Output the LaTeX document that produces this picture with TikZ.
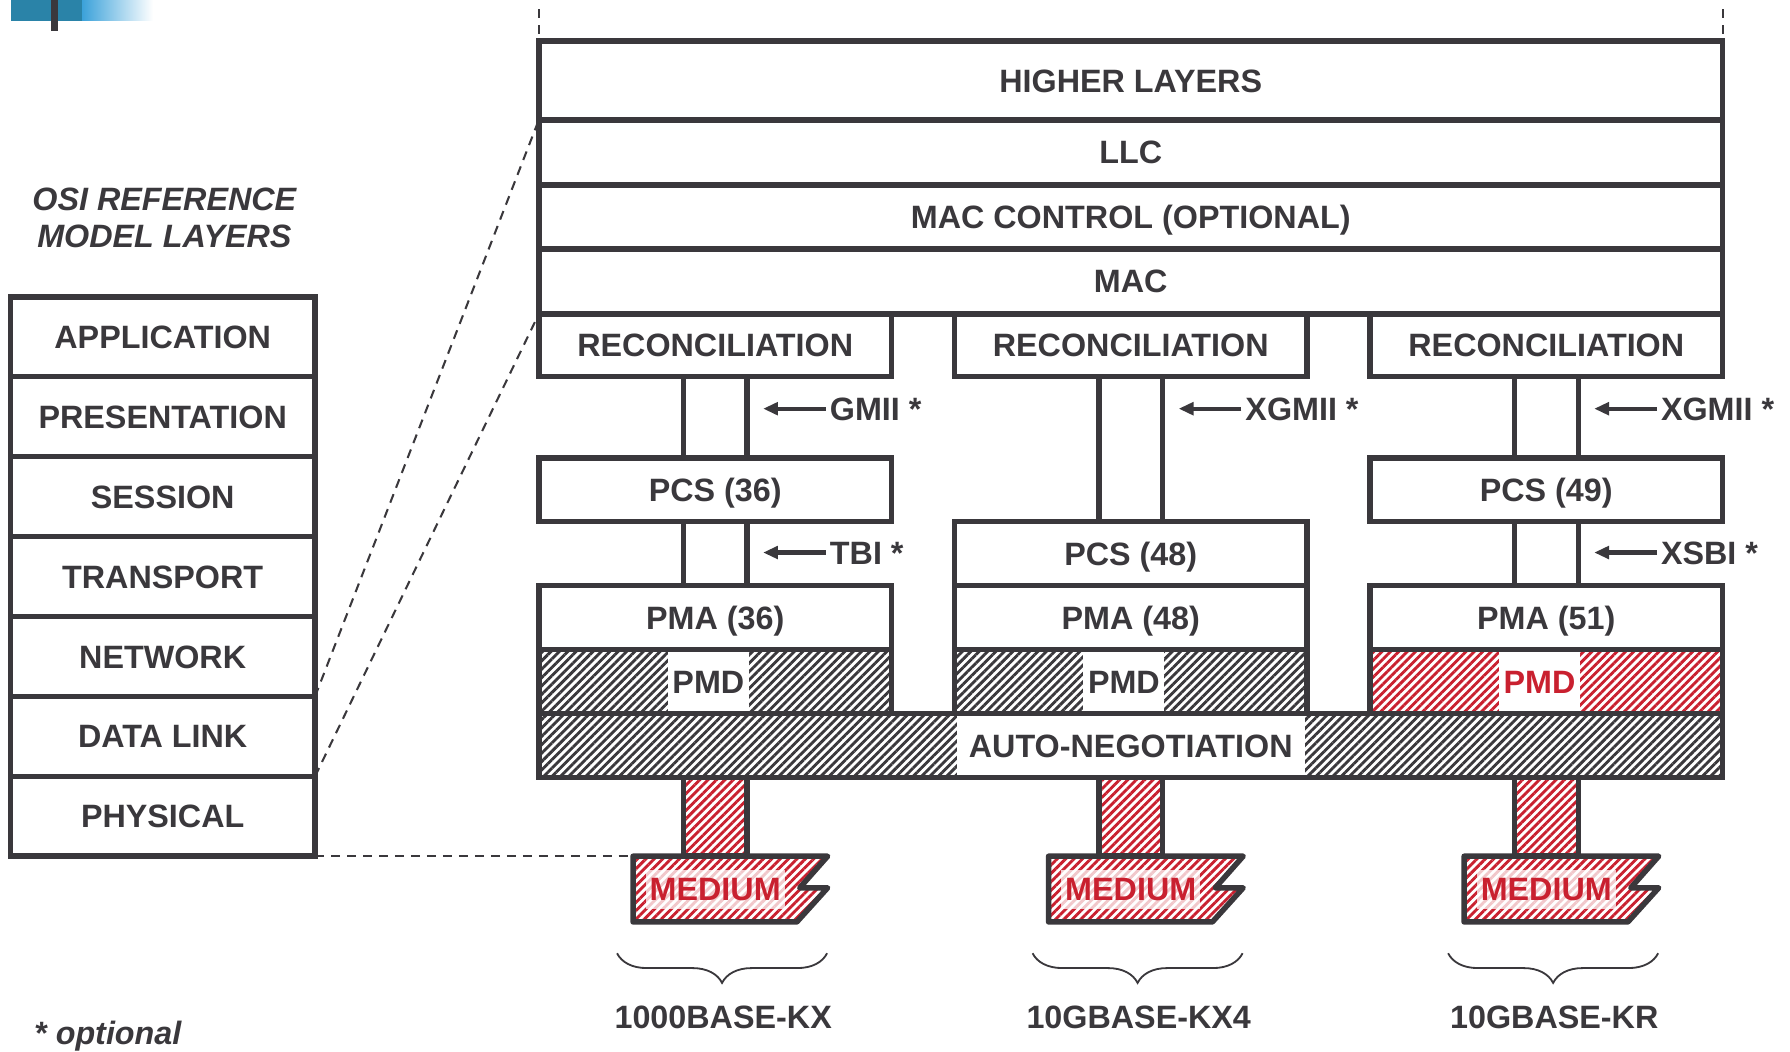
\documentclass[tikz,border=0pt]{standalone}
\usepackage{fontspec}
\setmainfont{Liberation Sans}
\usetikzlibrary{arrows.meta,patterns.meta,decorations.pathreplacing}
\definecolor{dk}{HTML}{3A383C}
\definecolor{rd}{HTML}{C9202F}
\definecolor{tealc}{HTML}{2A83A8}
\definecolor{lblue}{HTML}{3CA2DA}
\begin{document}
\begin{tikzpicture}[x=1pt,y=-1pt,
  txt/.style={font=\fontsize{28.3}{34}\selectfont\bfseries, text=dk, text height=20.3pt, text depth=0pt, inner sep=0pt, outer sep=0pt},
  box/.style={txt, draw=dk, line width=4.8pt, fill=white},
  hatchbox/.style={draw=dk, line width=4.8pt, pattern={Lines[angle=45,distance=5.2pt,line width=2.5pt]}, pattern color=#1, inner sep=0pt, outer sep=0pt},
  lbl/.style={txt, fill=white},
  bus/.style={draw=dk, line width=4.8pt},
  ifarrow/.style={draw=dk, line width=3.6pt, -{Triangle[length=13pt,width=11pt]}},
  dsh/.style={draw=dk, line width=1.8pt, dash pattern=on 8pt off 6pt},
  brc/.style={draw=dk, line width=1.6pt, decorate, decoration={brace, amplitude=26pt, mirror}},
  itl/.style={txt, font=\fontsize{28.3}{34}\selectfont\bfseries\itshape},
]
\useasboundingbox (0,0) rectangle (1568,921);

% top-left decoration
\fill[tealc] (10,0) rectangle (72,18);
\shade[left color=lblue, right color=white] (72,0) rectangle (134,18);
\fill[dk] (45,0) rectangle (51,27);

% upper layers
\node[box, minimum width=1037pt, minimum height=69pt] (hl) at (990.5,70.5) {HIGHER LAYERS};
\node[box, minimum width=1037pt, minimum height=57pt] (llc) at (990.5,133.5) {LLC};
\node[box, minimum width=1037pt, minimum height=56pt] (macc) at (990.5,190) {MAC CONTROL (OPTIONAL)};
\node[box, minimum width=1037pt, minimum height=57pt] (mac) at (990.5,246.5) {MAC};

% columns
\foreach \c/\i/\pma/\pc/\lab in {626.5/1/36/dk/1000BASE-KX, 990.5/2/48/dk/10GBASE-KX4, 1354.5/3/51/rd/10GBASE-KR} {
  \node[hatchbox=rd, minimum width=56pt, minimum height=69pt] (stem\i) at (\c,715.5) {};
  \node[box, minimum width=309pt, minimum height=55pt] (rec\i) at (\c,302.5) {RECONCILIATION};
  \node[box, minimum width=309pt, minimum height=56pt] (pma\i) at (\c,541) {PMA (\pma)};
  \node[hatchbox=\pc, minimum width=309pt, minimum height=56pt] (pmd\i) at (\c,597) {};
  \node[lbl, text=\pc, minimum width=71pt, minimum height=51pt] (pmdl\i) at ({\c-6},597) {PMD};
  \coordinate (mtl\i) at ({\c-72},750);
  \path[draw=dk, line width=4.8pt, line join=round, pattern={Lines[angle=45,distance=5.2pt,line width=2.5pt]}, pattern color=rd]
    (mtl\i) -- ({\c+98.5},750) -- ({\c+74},777.7) -- ({\c+98.5},777.7) -- ({\c+71.5},807.6) -- ({\c-72},807.6) -- cycle;
  \node[txt, text=rd, fill=white, fill opacity=0.75, text opacity=1, minimum width=122pt, minimum height=34pt] (med\i) at (\c,779) {MEDIUM};
  \coordinate (bl\i) at ({\c-86},835);
  \coordinate (br\i) at ({\c+98},835);
  \draw[brc] (bl\i) -- (br\i);
  \node[txt] (std\i) at ({\c+7},891) {\lab};
}

% PCS boxes
\node[box, minimum width=309pt, minimum height=56pt] (pcs1) at (626.5,429) {PCS (36)};
\node[box, minimum width=309pt, minimum height=56pt] (pcs2) at (990.5,485) {PCS (48)};
\node[box, minimum width=309pt, minimum height=56pt] (pcs3) at (1354.5,429) {PCS (49)};

% auto-negotiation
\node[hatchbox=dk, minimum width=1037pt, minimum height=56pt] (an) at (990.5,653) {};
\node[lbl, minimum width=305pt, minimum height=51pt] (anl) at (990.5,653) {AUTO-NEGOTIATION};

% buses
\foreach \i in {1,2,3} {
  \draw[bus] ([xshift=-28pt]rec\i.south) -- ([xshift=-28pt]pcs\i.north);
  \draw[bus] ([xshift=28pt]rec\i.south) -- ([xshift=28pt]pcs\i.north);
}
\foreach \i in {1,3} {
  \draw[bus] ([xshift=-28pt]pcs\i.south) -- ([xshift=-28pt]pma\i.north);
  \draw[bus] ([xshift=28pt]pcs\i.south) -- ([xshift=28pt]pma\i.north);
}

% interface labels
\coordinate (ga) at (668.5,358);
\node[txt, inner xsep=3.5pt, anchor=west] (gmii) at (723.5,358) {GMII *};
\draw[ifarrow] (gmii.west) -- (ga);
\coordinate (ta) at (668.5,484);
\node[txt, inner xsep=3.5pt, anchor=west] (tbi) at (723.5,484) {TBI *};
\draw[ifarrow] (tbi.west) -- (ta);
\coordinate (xa2) at (1032.5,358);
\node[txt, inner xsep=3.5pt, anchor=west] (xg2) at (1087.5,358) {XGMII *};
\draw[ifarrow] (xg2.west) -- (xa2);
\coordinate (xa3) at (1396.5,358);
\node[txt, inner xsep=3.5pt, anchor=west] (xg3) at (1451.5,358) {XGMII *};
\draw[ifarrow] (xg3.west) -- (xa3);
\coordinate (sa3) at (1396.5,484);
\node[txt, inner xsep=3.5pt, anchor=west] (xs3) at (1451.5,484) {XSBI *};
\draw[ifarrow] (xs3.west) -- (sa3);

% OSI stack
\node[itl] (ttl1) at (144,174) {OSI REFERENCE};
\node[itl] (ttl2) at (144,207) {MODEL LAYERS};
\foreach \t [count=\k] in {APPLICATION,PRESENTATION,SESSION,TRANSPORT,NETWORK,DATA LINK,PHYSICAL}
  \node[box, minimum width=267pt, minimum height=70pt] (osi\k) at (142.5,{295+70*(\k-1)}) {\t};

% dashed mapping lines
\draw[dsh] (osi6.north east) -- (llc.north west);
\draw[dsh] (osi7.north east) -- (rec1.north west);
\draw[dsh] (osi7.south east) -- (mtl1);
\coordinate (t1) at (472,8);
\coordinate (t2) at (1509,8);
\draw[dsh] (t1) -- (hl.north west);
\draw[dsh] (t2) -- (hl.north east);

\node[itl, anchor=west] (opt) at (30,905) {* optional};
\end{tikzpicture}
\end{document}
